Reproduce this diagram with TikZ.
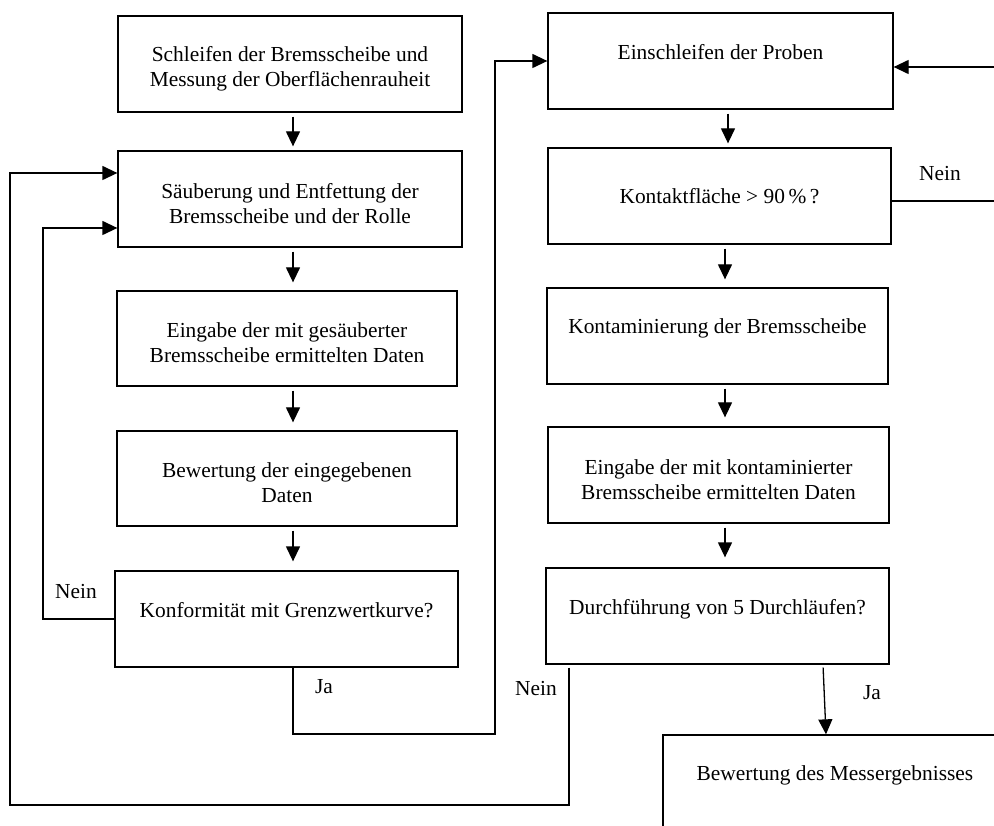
\documentclass[tikz,border=0pt]{standalone}
\usepackage{fontspec}
\setmainfont{Liberation Serif}
\usetikzlibrary{arrows.meta}
\newcommand{\oneup}{\rule[-19pt]{0pt}{19pt}}
\newcommand{\twodown}{\rule{0pt}{24pt}}
\begin{document}
\begin{tikzpicture}[x=1pt,y=-1pt,
  box/.style={draw, line width=1.3pt, minimum width=344pt, minimum height=96pt,
    inner sep=0pt, align=center, font=\fontsize{21.4}{25}\selectfont},
  conn/.style={line width=1.3pt},
  flow/.style={conn, -{Triangle[length=15pt,width=14pt]}},
  lbl/.style={font=\fontsize{21.4}{25}\selectfont, inner sep=0pt}]
\useasboundingbox (0,0) rectangle (994,826);
% left column
\node[box] (b1) at (290,64) {\twodown Schleifen der Bremsscheibe und\\Messung der Oberflächenrauheit};
\node[box] (b2) at (290,199) {\twodown Säuberung und Entfettung der\\Bremsscheibe und der Rolle};
\node[box, minimum width=340pt, minimum height=95pt] (b3) at (287,338.5) {\twodown Eingabe der mit gesäuberter\\Bremsscheibe ermittelten Daten};
\node[box, minimum width=340pt, minimum height=95pt] (b4) at (287,478.5) {\twodown Bewertung der eingegebenen\\Daten};
\node[box, minimum width=343pt] (b5) at (286.5,619) {Konformität mit Grenzwertkurve?\oneup};
% right column
\node[box, minimum width=345pt] (r1) at (720.5,61) {Einschleifen der Proben\oneup};
\node[box, minimum width=343pt] (r2) at (719.5,196) {Kontaktfläche > 90\,\%\,?};
\node[box, minimum width=341pt] (r3) at (717.5,336) {Kontaminierung der Bremsscheibe\oneup};
\node[box, minimum width=341pt] (r4) at (718.5,475) {\twodown Eingabe der mit kontaminierter\\Bremsscheibe ermittelten Daten};
\node[box, minimum width=343pt] (r5) at (717.5,616) {Durchführung von 5 Durchläufen?\oneup};
\begin{scope}
\clip (0,0) rectangle (994,826);
\node[box] (r6) at (835,783) {Bewertung des Messergebnisses\oneup};
\end{scope}
% helper coordinates
\coordinate (xa) at (293,0);
\coordinate (xb) at (725,0);
\coordinate (xc) at (728,0);
\coordinate (xn) at (569,0);
\coordinate (xo) at (10,0);
\coordinate (xi) at (43,0);
\coordinate (xj) at (495,0);
\coordinate (xy1) at (823,0);
\coordinate (xy2) at (826,0);
\coordinate (yin) at (0,228);
\coordinate (yout) at (0,173);
\coordinate (ybot) at (0,805);
\coordinate (yja) at (0,734);
\coordinate (rin) at (994,67);
\coordinate (rout) at (994,201);
% vertical arrows
\draw[flow, shorten <=4pt, shorten >=4pt] (b1.south -| xa) -- (b2.north -| xa);
\draw[flow, shorten <=4pt, shorten >=8pt] (b2.south -| xa) -- (b3.north -| xa);
\draw[flow, shorten <=4pt, shorten >=8pt] (b3.south -| xa) -- (b4.north -| xa);
\draw[flow, shorten <=4pt, shorten >=9pt] (b4.south -| xa) -- (b5.north -| xa);
\draw[flow, shorten <=4pt, shorten >=4pt] (r1.south -| xc) -- (r2.north -| xc);
\draw[flow, shorten <=4pt, shorten >=8pt] (r2.south -| xb) -- (r3.north -| xb);
\draw[flow, shorten <=4pt, shorten >=9pt] (r3.south -| xb) -- (r4.north -| xb);
\draw[flow, shorten <=4pt, shorten >=10pt] (r4.south -| xb) -- (r5.north -| xb);
% loops
\draw[flow] (b5.west) -- (xi |- b5.west) -- (xi |- yin) -- (b2.west |- yin);
\draw[flow, shorten <=3pt] (r5.south -| xn) -- (xn |- ybot) -- (xo |- ybot) -- (xo |- yout) -- (b2.west |- yout);
\draw[flow] (b5.south -| xa) -- (xa |- yja) -- (xj |- yja) -- (xj |- r1.west) -- (r1.west);
\draw[flow] (rin) -- (r1.east |- rin);
\draw[conn] (r2.east |- rout) -- (rout);
\draw[flow, shorten <=3pt] (r5.south -| xy1) -- (r6.north -| xy2);
% labels
\node[lbl] (n1) at (76,592) {Nein};
\node[lbl] (j1) at (324,687) {Ja};
\node[lbl] (n2) at (536,689) {Nein};
\node[lbl] (n3) at (940,174) {Nein};
\node[lbl] (j2) at (872,693) {Ja};
\end{tikzpicture}
\end{document}
